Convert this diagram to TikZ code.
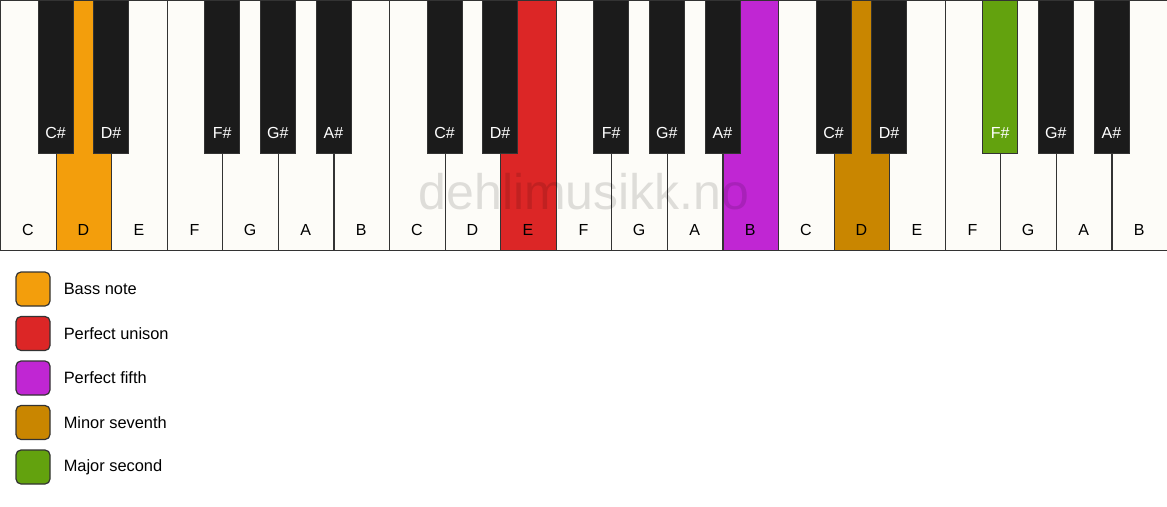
\documentclass[tikz,border=0pt]{standalone}
\usepackage{fontspec}
\setmainfont{Liberation Sans}
\usetikzlibrary{positioning}

\definecolor{keywhite}{HTML}{FDFCF8}
\definecolor{keyblack}{HTML}{1B1B1B}
\definecolor{keyline}{HTML}{333333}
\definecolor{bassnote}{HTML}{F39E0C}
\definecolor{unison}{HTML}{DC2626}
\definecolor{fifth}{HTML}{C026D3}
\definecolor{seventh}{HTML}{C98600}
\definecolor{second}{HTML}{63A20E}

\begin{document}
\begin{tikzpicture}[x=1pt, y=-1pt, every node/.style={font=\fontsize{16}{19}\selectfont},
    whitekey/.style={draw=keyline, line width=1.2pt, minimum width=55.57pt, minimum height=250pt, anchor=north west, inner sep=0pt},
    blackkey/.style={draw=keyline, line width=0.8pt, minimum width=35pt, minimum height=153pt, anchor=north, inner sep=0pt},
    legendbox/.style={draw=keyline, line width=1.2pt, rounded corners=5pt, minimum size=34pt, inner sep=0pt},
    legendtext/.style={inner sep=0pt, anchor=west, font=\fontsize{16.4}{19}\selectfont}]
  \useasboundingbox (0,0) rectangle (1167,506);

  % White keys
  \foreach \i/\n/\c in {0/C/keywhite, 1/D/bassnote, 2/E/keywhite, 3/F/keywhite, 4/G/keywhite, 5/A/keywhite, 6/B/keywhite,
      7/C/keywhite, 8/D/keywhite, 9/E/unison, 10/F/keywhite, 11/G/keywhite, 12/A/keywhite, 13/B/fifth,
      14/C/keywhite, 15/D/seventh, 16/E/keywhite, 17/F/keywhite, 18/G/keywhite, 19/A/keywhite, 20/B/keywhite}{
    \node (w\i) [whitekey, fill=\c] at (\i*55.571,0) {};
    \node (wl\i) at (\i*55.571+27.8,230) {\n};
  }

  % Watermark
  \node (mark) [font=\fontsize{50}{60}\selectfont, text=black, text opacity=0.12] at (584,192) {dehlimusikk.no};

  % Black keys
  \foreach \b/\n/\c/\t in {1/C/keyblack/white, 2/D/keyblack/white, 4/F/keyblack/white, 5/G/keyblack/white, 6/A/keyblack/white,
      8/C/keyblack/white, 9/D/keyblack/white, 11/F/keyblack/white, 12/G/keyblack/white, 13/A/keyblack/white,
      15/C/keyblack/white, 16/D/keyblack/white, 18/F/second/white, 19/G/keyblack/white, 20/A/keyblack/white}{
    \node (b\b) [blackkey, fill=\c] at (\b*55.571,0) {};
    \node (bl\b) [text=\t] at (\b*55.571,133) {\n\#};
  }

  % Legend
  \node (legbass) [legendbox, fill=bassnote] at (33,289) {};
  \node (legunison) [legendbox, fill=unison, below=9.3pt of legbass] {};
  \node (legfifth) [legendbox, fill=fifth, below=9.3pt of legunison] {};
  \node (legseventh) [legendbox, fill=seventh, below=9.3pt of legfifth] {};
  \node (legsecond) [legendbox, fill=second, below=9.3pt of legseventh] {};

  \node (txtbass) [legendtext, right=13pt of legbass] {Bass note};
  \node (txtunison) [legendtext, right=13pt of legunison] {Perfect unison};
  \node (txtfifth) [legendtext, right=13pt of legfifth] {Perfect fifth};
  \node (txtseventh) [legendtext, right=13pt of legseventh] {Minor seventh};
  \node (txtsecond) [legendtext, right=13pt of legsecond] {Major second};
\end{tikzpicture}
\end{document}
